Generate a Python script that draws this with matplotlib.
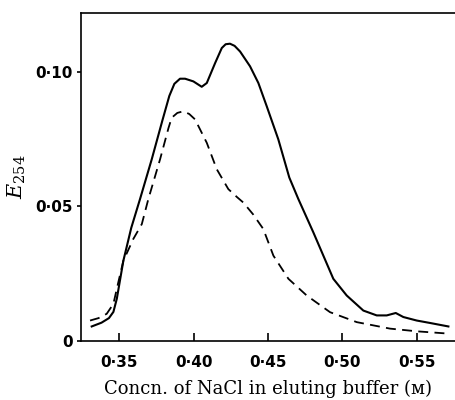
import matplotlib
matplotlib.use("Agg")
import matplotlib.pyplot as plt
from matplotlib.ticker import FuncFormatter

plt.rcParams["mathtext.fontset"] = "dejavuserif"

# NaCl concentration (M) and E254 readings, solid curve
solid_x = [0.3314, 0.3380, 0.3430, 0.3460, 0.3483, 0.3527, 0.3580, 0.3639, 0.3718,
           0.3790, 0.3836, 0.3870, 0.3908, 0.3942, 0.3998, 0.4054, 0.4088, 0.4144,
           0.4189, 0.4215, 0.4244, 0.4275, 0.4312, 0.4379, 0.4435, 0.4491, 0.4569,
           0.4643, 0.4704, 0.4805, 0.4939, 0.5029, 0.5141, 0.5231, 0.5298, 0.5359,
           0.5410, 0.5500, 0.5589, 0.5713]
solid_y = [0.0054, 0.0068, 0.0085, 0.0108, 0.0157, 0.0298, 0.0420, 0.0527, 0.0675,
           0.0820, 0.0910, 0.0955, 0.0974, 0.0974, 0.0964, 0.0944, 0.0958, 0.1032,
           0.1088, 0.1102, 0.1104, 0.1096, 0.1075, 0.1020, 0.0958, 0.0872, 0.0749,
           0.0607, 0.0527, 0.0403, 0.0231, 0.0169, 0.0113, 0.0095, 0.0095, 0.0104,
           0.0089, 0.0076, 0.0067, 0.0054]

# dashed curve
dash_x = [0.3303, 0.3360, 0.3415, 0.3460, 0.3493, 0.3527, 0.3594, 0.3651, 0.3695,
          0.3774, 0.3830, 0.3852, 0.3890, 0.3930, 0.3970, 0.4009, 0.4088, 0.4155,
          0.4233, 0.4290, 0.4334, 0.4400, 0.4468, 0.4536, 0.4637, 0.4760, 0.4917,
          0.5097, 0.5320, 0.5500, 0.5724]
dash_y = [0.0076, 0.0085, 0.0101, 0.0138, 0.0218, 0.0298, 0.0379, 0.0434, 0.0527,
          0.0675, 0.0790, 0.0829, 0.0847, 0.0853, 0.0843, 0.0823, 0.0736, 0.0638,
          0.0564, 0.0535, 0.0514, 0.0470, 0.0416, 0.0317, 0.0231, 0.0169, 0.0107,
          0.0070, 0.0046, 0.0036, 0.0027]

x_ticks = [0.35, 0.40, 0.45, 0.50, 0.55]
y_ticks = [0.0, 0.05, 0.10]

fig = plt.figure(figsize=(4.56, 4.0), dpi=100)
ax = fig.add_axes([0.1776, 0.1475, 0.8204, 0.82])

ax.plot(solid_x, solid_y, color="black", lw=1.5, solid_joinstyle="round")
ax.plot(dash_x, dash_y, color="black", lw=1.3, linestyle=(0, (5.5, 3.5)),
        dash_joinstyle="round")

ax.set_xlim(0.3242, 0.5758)
ax.set_ylim(0.0, 0.1218)

ax.spines["right"].set_visible(False)
for s in ("left", "top", "bottom"):
    ax.spines[s].set_linewidth(1.2)

ax.set_xticks(x_ticks)
ax.set_yticks(y_ticks)

def fmt(v, pos):
    if abs(v) < 1e-9:
        return "0"
    return f"{v:.2f}".replace(".", "\u00b7")

ax.xaxis.set_major_formatter(FuncFormatter(fmt))
ax.yaxis.set_major_formatter(FuncFormatter(fmt))

ax.tick_params(axis="x", direction="in", length=6, width=1.2, pad=10)
ax.tick_params(axis="y", direction="out", length=3, width=1.2, pad=3)
for lab in ax.get_xticklabels() + ax.get_yticklabels():
    lab.set_fontfamily("DejaVu Sans")
    lab.set_fontweight("bold")
    lab.set_fontsize(11)

ax.set_xlabel("Concn. of NaCl in eluting buffer (\u1d0d)", family=["DejaVu Serif"],
              fontsize=13, labelpad=7)
ax.set_ylabel(r"$E_{254}$", fontsize=15, labelpad=5)

fig.savefig("out.png", dpi=100)
